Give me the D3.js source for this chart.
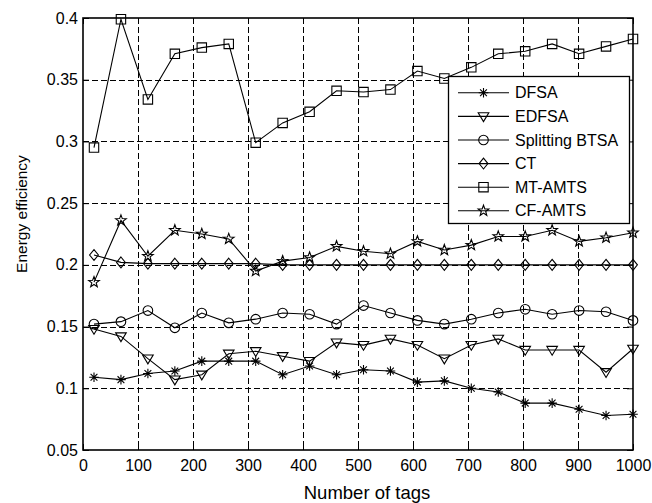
<!DOCTYPE html>
<html>
<head>
<meta charset="utf-8">
<script src="https://cdn.jsdelivr.net/npm/d3@7"></script>
<style>
  html, body { margin: 0; padding: 0; background: #fff; }
  svg { display: block; }
  text { font-family: "Liberation Sans", Arial, Helvetica, sans-serif; fill: #000; }
</style>
</head>
<body>
<div id="chart"></div>
<script>
// ---- data ----
const tags = [20, 69, 118, 167, 216, 265, 314, 363, 412, 461, 510, 559, 608, 657, 706, 755, 804, 853, 902, 951, 1000];
const dfsa = [0.109, 0.107, 0.112, 0.114, 0.122, 0.122, 0.122, 0.111, 0.118, 0.111, 0.115, 0.114, 0.105, 0.106, 0.100, 0.097, 0.088, 0.088, 0.083, 0.078, 0.079];
const edfsa = [0.148, 0.142, 0.124, 0.107, 0.111, 0.128, 0.130, 0.126, 0.122, 0.137, 0.135, 0.140, 0.135, 0.124, 0.135, 0.140, 0.131, 0.131, 0.131, 0.113, 0.132];
const splittingBtsa = [0.152, 0.154, 0.163, 0.149, 0.161, 0.153, 0.156, 0.161, 0.160, 0.152, 0.167, 0.161, 0.155, 0.152, 0.156, 0.161, 0.164, 0.160, 0.163, 0.162, 0.155];
const ct = [0.208, 0.202, 0.201, 0.201, 0.201, 0.201, 0.201, 0.200, 0.200, 0.200, 0.200, 0.200, 0.200, 0.200, 0.200, 0.200, 0.200, 0.200, 0.200, 0.200, 0.200];
const mtAmts = [0.295, 0.399, 0.334, 0.371, 0.376, 0.379, 0.299, 0.315, 0.324, 0.341, 0.340, 0.342, 0.357, 0.351, 0.360, 0.371, 0.373, 0.379, 0.371, 0.377, 0.383];
const cfAmts = [0.186, 0.236, 0.207, 0.228, 0.225, 0.221, 0.195, 0.203, 0.206, 0.215, 0.211, 0.209, 0.219, 0.212, 0.216, 0.223, 0.223, 0.228, 0.219, 0.222, 0.226];
const seriesNames = ["DFSA", "EDFSA", "Splitting BTSA", "CT", "MT-AMTS", "CF-AMTS"];
const markerKinds = ["asterisk", "triangleDown", "circle", "diamond", "square", "star"];
const xTicks = [0, 100, 200, 300, 400, 500, 600, 700, 800, 900, 1000];
const yTicks = [0.05, 0.1, 0.15, 0.2, 0.25, 0.3, 0.35, 0.4];
const xLabel = "Number of tags";
const yLabel = "Energy efficiency";

// ---- layout ----
const W = 652, H = 503;
const L = 83, R = 633, T = 18, B = 450;
const svg = d3.select("#chart").append("svg").attr("width", W).attr("height", H);
svg.append("rect").attr("width", W).attr("height", H).attr("fill", "#fff");

const x = d3.scaleLinear().domain([0, 1000]).range([L, R]);
const y = d3.scaleLinear().domain([0.05, 0.4]).range([B, T]);

// grid
const grid = svg.append("g").attr("stroke", "#000").attr("stroke-width", 1).attr("stroke-dasharray", "6,3");
grid.selectAll("line.gx").data(xTicks.slice(1, -1)).join("line")
  .attr("x1", d => Math.round(x(d)) + 0.5).attr("x2", d => Math.round(x(d)) + 0.5)
  .attr("y1", T).attr("y2", B);
grid.selectAll("line.gy").data(yTicks.slice(1, -1)).join("line")
  .attr("y1", d => Math.round(y(d)) + 0.5).attr("y2", d => Math.round(y(d)) + 0.5)
  .attr("x1", L).attr("x2", R);

// axes (ticks inward)
const tickLen = 6;
const fmtY = d => d3.format("")(+d.toFixed(2));
const axB = svg.append("g").attr("transform", `translate(0,${B})`)
  .call(d3.axisBottom(x).tickValues(xTicks).tickSizeInner(-tickLen).tickSizeOuter(0).tickPadding(10).tickFormat(d3.format("d")));
const axT = svg.append("g").attr("transform", `translate(0,${T})`)
  .call(d3.axisTop(x).tickValues(xTicks).tickSizeInner(-tickLen).tickSizeOuter(0).tickFormat(""));
const axL = svg.append("g").attr("transform", `translate(${L},0)`)
  .call(d3.axisLeft(y).tickValues(yTicks).tickSizeInner(-tickLen).tickSizeOuter(0).tickPadding(5).tickFormat(fmtY));
const axR = svg.append("g").attr("transform", `translate(${R},0)`)
  .call(d3.axisRight(y).tickValues(yTicks).tickSizeInner(-tickLen).tickSizeOuter(0).tickFormat(""));
[axB, axT, axL, axR].forEach(a => {
  a.select(".domain").remove();
  a.selectAll(".tick line").attr("stroke", "#000").attr("stroke-width", 1);
  a.selectAll("text").attr("font-size", 16).attr("font-family", '"Liberation Sans", Arial, sans-serif').attr("fill", "#000");
});

// frame
svg.append("rect").attr("x", L).attr("y", T).attr("width", R - L).attr("height", B - T)
  .attr("fill", "none").attr("stroke", "#000").attr("stroke-width", 1.6);

// markers
function markerPath(kind) {
  switch (kind) {
    case "square": return "M-4.7,-4.7H4.7V4.7H-4.7Z";
    case "circle": return d3.symbol(d3.symbolCircle, Math.PI * 4.8 * 4.8)();
    case "diamond": return "M0,-5.4L4.4,0L0,5.4L-4.4,0Z";
    case "triangleDown": return "M-5.3,-3.6L5.3,-3.6L0,5.2Z";
    case "star": {
      let p = "";
      for (let i = 0; i < 10; i++) {
        const r = i % 2 === 0 ? 5.6 : 2.3;
        const a = -Math.PI / 2 + i * Math.PI / 5;
        p += (i === 0 ? "M" : "L") + (r * Math.cos(a)).toFixed(2) + "," + (r * Math.sin(a)).toFixed(2);
      }
      return p + "Z";
    }
    case "asterisk": {
      const r = 4.8, q = r * 0.7071;
      return `M${-r},0H${r}M0,${-r}V${r}M${-q},${-q}L${q},${q}M${-q},${q}L${q},${-q}`;
    }
  }
}

const allSeries = [dfsa, edfsa, splittingBtsa, ct, mtAmts, cfAmts];
const line = d3.line().x((d, i) => x(tags[i])).y(d => y(d));
const plot = svg.append("g");
allSeries.forEach((vals, si) => {
  const g = plot.append("g");
  g.append("path").datum(vals).attr("d", line)
    .attr("fill", "none").attr("stroke", "#000").attr("stroke-width", 1.1);
  g.selectAll("path.m").data(vals).join("path").attr("class", "m")
    .attr("transform", (d, i) => `translate(${x(tags[i])},${y(d)})`)
    .attr("d", markerPath(markerKinds[si]))
    .attr("fill", "none").attr("stroke", "#000").attr("stroke-width", 1.1);
});

// legend
const lg = svg.append("g");
lg.append("rect").attr("x", 448.5).attr("y", 76.5).attr("width", 181).attr("height", 147)
  .attr("fill", "#fff").attr("stroke", "#000").attr("stroke-width", 1.3);
seriesNames.forEach((name, i) => {
  const cy = 92.8 + i * 23.6;
  lg.append("line").attr("x1", 458).attr("x2", 509).attr("y1", cy).attr("y2", cy)
    .attr("stroke", "#000").attr("stroke-width", 1.1);
  lg.append("path").attr("transform", `translate(483.5,${cy})`).attr("d", markerPath(markerKinds[i]))
    .attr("fill", "none").attr("stroke", "#000").attr("stroke-width", 1.1);
  lg.append("text").attr("x", 515).attr("y", cy + 5.6).attr("font-size", 16).text(name);
});

// axis labels
svg.append("text").attr("x", 367).attr("y", 499).attr("text-anchor", "middle").attr("font-size", 18.5).text(xLabel);
svg.append("text").attr("transform", "translate(27,214) rotate(-90)").attr("text-anchor", "middle").attr("font-size", 15.5).text(yLabel);
</script>
</body>
</html>
